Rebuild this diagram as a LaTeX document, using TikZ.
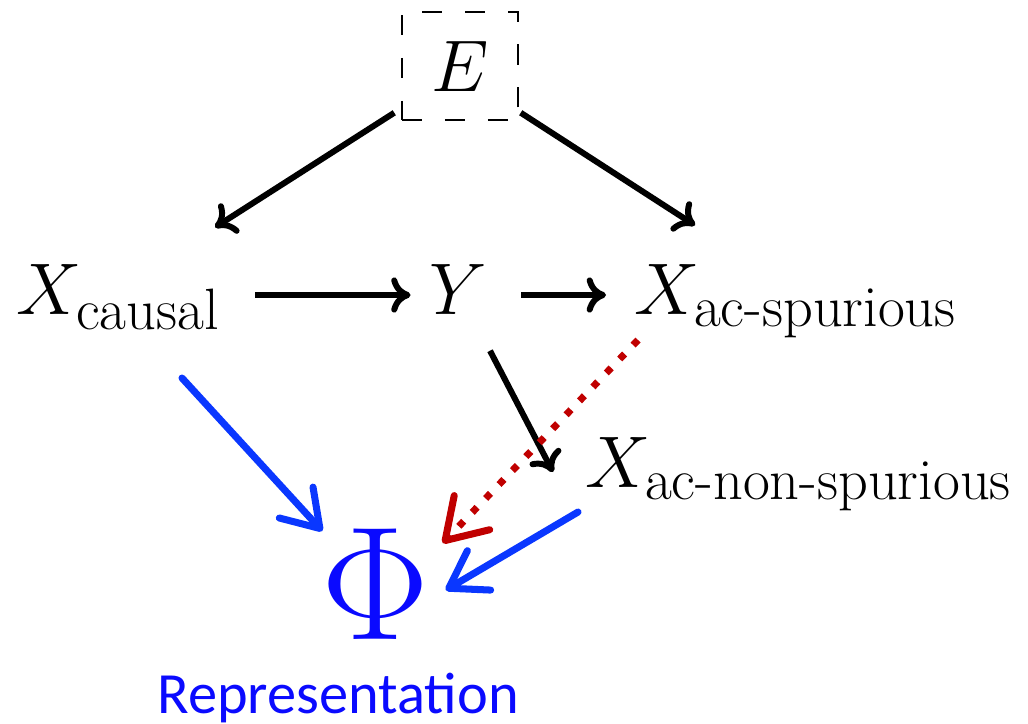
\RequirePackage{fix-cm}
\documentclass[tikz,border=0pt]{standalone}
\usepackage{amsmath}
\usepackage{fontspec}
\newfontfamily\repfont{Carlito}
\usetikzlibrary{arrows.meta,calc}
\definecolor{phiblue}{RGB}{10,10,255}
\definecolor{arrblue}{RGB}{10,55,255}
\definecolor{spured}{RGB}{192,0,0}
\newcommand{\lbl}[1]{\hbox{\fontsize{16.6}{20}\selectfont #1}}

\begin{document}
\begin{tikzpicture}[x=0.01cm,y=-0.01cm,
	var/.style={inner sep=0pt,font=\fontsize{20.8}{25}\selectfont},
	cause/.style={line width=1.7pt,-{Computer Modern Rightarrow[length=5.5pt,width=10pt]}},
	feed/.style={arrblue,line width=2pt,line cap=round,-{Straight Barb[length=10pt,width=13pt,round]}},
	leak/.style={spured,line width=2pt,dash pattern=on 2pt off 3.5pt,-{Straight Barb[length=11pt,width=14pt,round]}}]
		\useasboundingbox (0,0) rectangle (1028,723);
		% variables
		\node[var,draw,line width=0.4pt,dash pattern=on 5.7pt off 6.5pt,minimum width=1.16cm,minimum height=1.08cm] (E) at (460,66) {$E$};
		\node[var,anchor=base west] (Xc) at (16,314) {$X_{\lbl{causal}}$};
		\node[var,anchor=base] (Y) at (458,314) {$Y$};
		\node[var,anchor=base west] (Xs) at (634,314) {$X_{\lbl{ac-spurious}}$};
		\node[var,anchor=base west] (Xn) at (585,487) {$X_{\lbl{ac-non-spurious}}$};
		\node[inner sep=0pt,text=phiblue,font=\fontsize{46}{50}\selectfont] (Phi) at (375,584) {$\Phi$};
		\node[anchor=base,text=phiblue,font=\repfont\fontsize{16.6}{19}\selectfont] (Rep) at (338,713) {Representation};
		% causal graph
		\draw[cause] ($(E.south west)+(-7,-8)$) -- ($(Xc.north west)+(199,-36)$);
		\draw[cause] ($(E.south east)+(2,-8)$) -- ($(Xs.north west)+(61,-38)$);
		\draw[cause] ($(Xc.base west)+(239,-19)$) -- ($(Y.base west)+(-18,-19)$);
		\draw[cause] ($(Y.base east)+(34,-19)$) -- ($(Xs.base west)+(-28,-19)$);
		\draw[cause] ($(Y.south)+(32,36)$) -- ($(Xn.base west)+(-32,-15)$);
		% into the representation
		\draw[leak] ($(Xs.base west)+(4,26)$) -- ($(Phi.north east)+(13,15)$);
		\draw[feed] ($(Xc.base west)+(166,64)$) -- ($(Phi.north west)+(2,3)$);
		\draw[feed] ($(Xn.base west)+(-7,25)$) -- ($(Phi.east)+(16,6)$);
	\end{tikzpicture}
\end{document}
